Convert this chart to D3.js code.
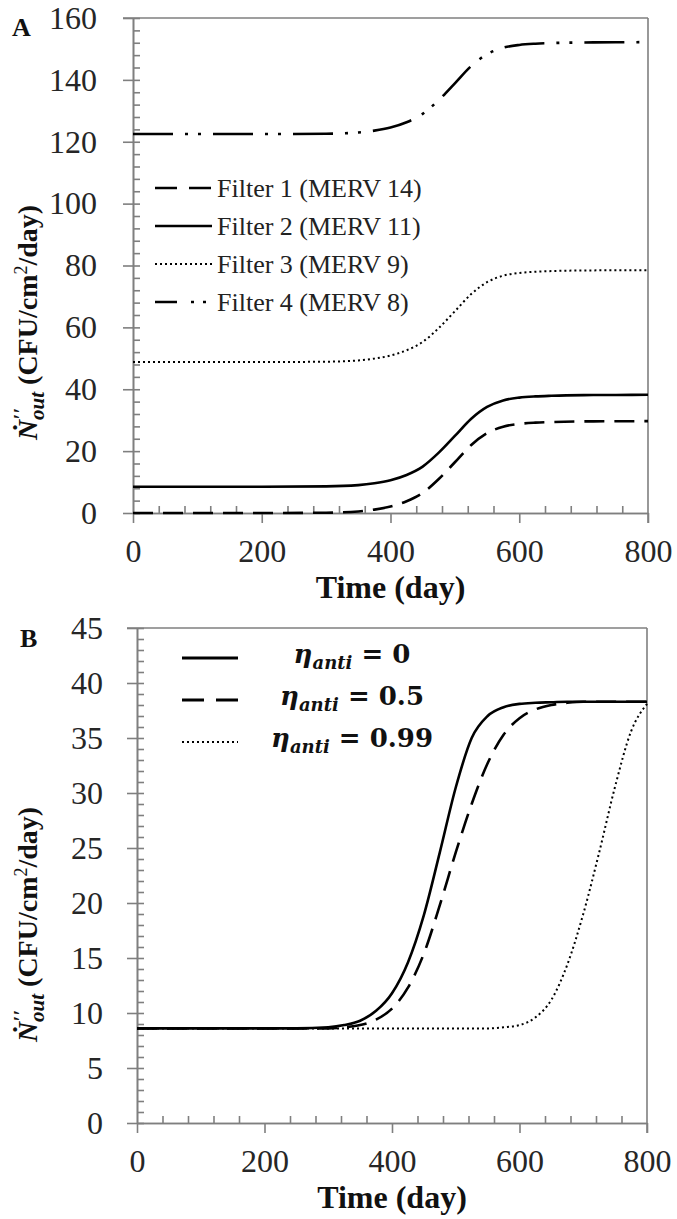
<!DOCTYPE html>
<html><head><meta charset="utf-8">
<script src="https://cdn.jsdelivr.net/npm/d3@7/dist/d3.min.js"></script>
<style>
html,body{margin:0;padding:0;background:#fff;}
svg{display:block;}
.tick text{font-family:"Liberation Serif","Times New Roman",serif;fill:#262626;}
</style></head>
<body><svg id="c" width="677" height="1219"></svg>
<script>
// ---------- data ----------
const timesA = [0,100,200,300,350,375,400,425,450,475,500,525,550,575,600,625,650,700,750,800];
const filter1 = [0,0,0,0.1,0.5,1.1,2.1,3.8,6.5,11.0,16.4,21.9,25.8,27.9,28.8,29.2,29.4,29.6,29.65,29.7];
const filter2 = [8.5,8.5,8.5,8.6,9.0,9.6,10.6,12.3,15.0,19.5,24.9,30.4,34.3,36.4,37.3,37.7,37.9,38.1,38.15,38.2];
const filter3 = [48.8,48.8,48.8,48.9,49.3,49.9,50.9,52.6,55.3,59.8,65.2,70.7,74.6,76.7,77.6,78.0,78.2,78.4,78.45,78.5];
const filter4 = [122.5,122.5,122.5,122.6,123.0,123.6,124.6,126.3,129.0,133.5,138.9,144.4,148.3,150.4,151.3,151.7,151.9,152.1,152.15,152.2];
const seriesNamesA = ["Filter 1 (MERV 14)","Filter 2 (MERV 11)","Filter 3 (MERV 9)","Filter 4 (MERV 8)"];

const timesB = [0,100,200,250,300,325,350,375,400,425,450,475,500,525,550,575,600,625,650,675,700,725,750,775,800];
const eta0   = [8.6,8.6,8.6,8.6,8.7,8.9,9.3,10.2,11.8,14.6,18.9,24.6,30.5,35.0,37.0,37.8,38.1,38.2,38.25,38.3,38.3,38.3,38.3,38.3,38.3];
const eta05  = [8.6,8.6,8.6,8.6,8.6,8.7,8.9,9.4,10.4,12.3,15.4,19.8,24.6,29.0,32.7,35.3,36.8,37.6,38.0,38.2,38.3,38.3,38.3,38.3,38.3];
const eta099 = [8.6,8.6,8.6,8.6,8.6,8.6,8.6,8.6,8.6,8.6,8.6,8.6,8.6,8.6,8.6,8.7,8.9,9.6,11.2,14.4,19.0,24.6,30.6,35.6,38.1];
const etaLabels = ["0","0.5","0.99"];

const xTicks = [0,200,400,600,800];
const yTicksA = [0,20,40,60,80,100,120,140,160];
const yTicksB = [0,5,10,15,20,25,30,35,40,45];

// ---------- drawing ----------
const svg = d3.select("#c");
const AX = "#7f7f7f";
const SERIF = '"Liberation Serif","Times New Roman",serif';

function panel(cfg){
  const x = d3.scaleLinear().domain([0,800]).range([cfg.x0,cfg.x1]);
  const y = d3.scaleLinear().domain([0,cfg.ymax]).range([cfg.yb,cfg.yt]);
  const g = svg.append("g");
  const xMinor = d3.range(0,801,40).filter(v=>v%200!==0);
  const yMinor = d3.range(0,cfg.ymax+0.001,cfg.yminor).filter(v=>Math.abs(v/cfg.ystep-Math.round(v/cfg.ystep))>1e-6);

  g.append("g").attr("transform",`translate(${cfg.x0},0)`)
    .call(d3.axisLeft(y).tickValues(cfg.yticks).tickSize(10).tickPadding(cfg.ypad).tickSizeOuter(0));
  g.append("g").attr("transform",`translate(${cfg.x0},0)`)
    .call(d3.axisRight(y).tickValues(cfg.yticks.concat(yMinor)).tickSize(7).tickFormat("").tickSizeOuter(0));
  g.append("g").attr("transform",`translate(0,${cfg.yb})`)
    .call(d3.axisBottom(x).tickValues(xTicks).tickSize(10).tickPadding(cfg.xpad).tickSizeOuter(0));
  g.append("g").attr("transform",`translate(0,${cfg.yb})`)
    .call(d3.axisTop(x).tickValues(xMinor).tickSize(7).tickFormat("").tickSizeOuter(0));
  g.selectAll(".domain").attr("stroke",AX).attr("stroke-width",1.6);
  g.selectAll(".tick line").attr("stroke",AX).attr("stroke-width",1.6);
  g.selectAll(".tick text").attr("font-size",cfg.fs).attr("font-family",SERIF);
  g.append("line").attr("x1",cfg.x0-10).attr("x2",cfg.x1).attr("y1",cfg.yt).attr("y2",cfg.yt).attr("stroke",AX).attr("stroke-width",1.6);
  g.append("line").attr("x1",cfg.x1).attr("x2",cfg.x1).attr("y1",cfg.yt).attr("y2",cfg.yb+10).attr("stroke",AX).attr("stroke-width",1.6);

  g.append("text").attr("x",(cfg.x0+cfg.x1)/2).attr("y",cfg.xtitleY).attr("text-anchor","middle")
    .attr("font-family",SERIF).attr("font-weight","bold").attr("font-size",32).attr("fill","#111").text("Time (day)");
  const yt = g.append("text").attr("transform",`translate(${cfg.ytX},${cfg.ytY}) rotate(-90)`)
    .attr("font-family",SERIF).attr("font-weight","bold").attr("font-size",28).attr("fill","#111");
  yt.append("tspan").attr("font-style","italic").text("\u1E44");
  yt.append("tspan").attr("font-style","italic").attr("font-size",21).attr("dy",-9).text("\u2032\u2032");
  yt.append("tspan").attr("font-style","italic").attr("font-size",21).attr("dx",-12).attr("dy",16).text("out");
  yt.append("tspan").attr("dy",-7).text(" (CFU/cm");
  yt.append("tspan").attr("font-size",18).attr("font-weight","normal").attr("dy",-10).text("2");
  yt.append("tspan").attr("dy",10).text("/day)");
  g.append("text").attr("x",cfg.lx).attr("y",cfg.ly).attr("font-family",SERIF).attr("font-weight","bold")
    .attr("font-size",26).attr("fill","#111").text(cfg.letter);
  return {x,y,g};
}

// Panel A
const A = panel({x0:133,x1:648,yt:18,yb:513,ymax:160,ystep:20,yminor:4,yticks:yTicksA,ypad:26,xpad:16,fs:32,
  xtitleY:598,ytX:37,ytY:440,lx:12,ly:36,letter:"A"});
const lineA = d3.line().x((d,i)=>A.x(timesA[i])).y(d=>A.y(d)).curve(d3.curveMonotoneX);
const stylesA = [
  {data:filter1,dash:"20,10",leg:"22,12"},
  {data:filter2,dash:null,leg:null},
  {data:filter3,dash:"2,3",leg:"2,3"},
  {data:filter4,dash:"40,12,3,10,3,12",leg:"22,14,3,9,3,9"}
];
stylesA.forEach((s,i)=>{
  A.g.append("path").attr("d",lineA(s.data)).attr("fill","none").attr("stroke","#000")
    .attr("stroke-width",s.dash==="2,3"?2:2.6).attr("stroke-dasharray",s.dash);
  const ly = 188 + i*38;
  A.g.append("line").attr("x1",155).attr("x2",212).attr("y1",ly).attr("y2",ly).attr("stroke","#000")
    .attr("stroke-width",s.dash==="2,3"?2:2.6).attr("stroke-dasharray",s.leg);
  A.g.append("text").attr("x",217).attr("y",ly+9).attr("font-family",SERIF).attr("font-size",26)
    .attr("fill","#222").text(seriesNamesA[i]);
});

// Panel B
const B = panel({x0:137,x1:647,yt:628,yb:1123,ymax:45,ystep:5,yminor:1,yticks:yTicksB,ypad:24,xpad:16,fs:32,
  xtitleY:1208,ytX:37,ytY:1042,lx:20,ly:647,letter:"B"});
const lineB = d3.line().x((d,i)=>B.x(timesB[i])).y(d=>B.y(d)).curve(d3.curveMonotoneX);
const stylesB = [
  {data:eta0,dash:null},
  {data:eta05,dash:"20,10"},
  {data:eta099,dash:"2,3"}
];
stylesB.forEach((s,i)=>{
  B.g.append("path").attr("d",lineB(s.data)).attr("fill","none").attr("stroke","#000")
    .attr("stroke-width",s.dash==="2,3"?2:2.6).attr("stroke-dasharray",s.dash);
  const ly = 658 + i*42;
  B.g.append("line").attr("x1",182).attr("x2",238).attr("y1",ly).attr("y2",ly).attr("stroke","#000")
    .attr("stroke-width",s.dash==="2,3"?2:2.8).attr("stroke-dasharray",s.dash==="20,10"?"22,12":s.dash);
  const t = B.g.append("text").attr("x",352).attr("y",ly+5).attr("text-anchor","middle")
    .attr("font-family",'"DejaVu Serif",serif').attr("font-weight","bold").attr("font-size",26).attr("fill","#111");
  t.append("tspan").attr("font-style","italic").text("\u03B7");
  t.append("tspan").attr("font-style","italic").attr("font-size",18).attr("dy",6).text("anti");
  t.append("tspan").attr("dy",-6).text(" = " + etaLabels[i]);
});
</script></body></html>
